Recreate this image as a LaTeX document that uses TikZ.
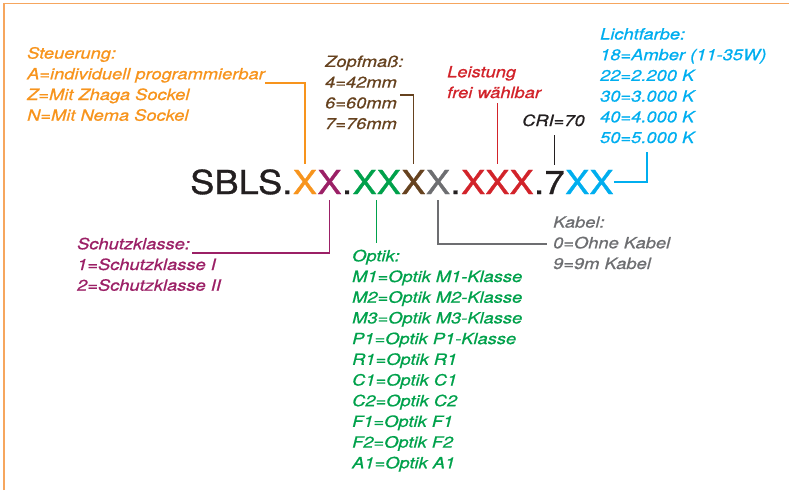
\documentclass[tikz,border=0pt]{standalone}
\usepackage{fontspec}
\setmainfont[FakeStretch=1.18, FakeBold=0.8]{TeX Gyre Heros}
\newfontfamily\codefont[FakeStretch=1.1, FakeBold=1]{TeX Gyre Heros}
\usetikzlibrary{positioning}
\definecolor{cFrame}{HTML}{F6A65E}
\definecolor{cOrange}{HTML}{F7941D}
\definecolor{cPurple}{HTML}{9B2066}
\definecolor{cGreen}{HTML}{00A14B}
\definecolor{cBrown}{HTML}{66421F}
\definecolor{cGray}{HTML}{6D6E71}
\definecolor{cRed}{HTML}{D2232A}
\definecolor{cBlue}{HTML}{00AEEF}
\definecolor{cBlack}{HTML}{231F20}
\begin{document}
\begin{tikzpicture}[x=1pt, y=-1pt,
  code/.style={font=\codefont\fontsize{33}{33}\selectfont, inner xsep=0pt, inner ysep=6pt, text=cBlack},
  lbl/.style={font=\fontsize{15.5}{20.7}\selectfont\itshape, align=left, inner sep=0pt, anchor=base west},
  wire/.style={line width=1.3pt}]
 \useasboundingbox (0,0) rectangle (789,490);
 \draw[cFrame, line width=1.8pt] (4,490) -- (4,3.5) -- (789,3.5);
 % the type code
 \node[code, anchor=base west] (sbls) at (190,194) {SBLS.};
 \node[code, base right=0pt of sbls, text=cOrange] (st) {X};
 \node[code, base right=0pt of st, text=cPurple] (sk) {X};
 \node[code, base right=0pt of sk] (dot1) {.};
 \node[code, base right=0pt of dot1, text=cGreen] (op) {XX};
 \node[code, base right=0pt of op, text=cBrown] (zm) {X};
 \node[code, base right=0pt of zm, text=cGray] (kb) {X};
 \node[code, base right=0pt of kb] (dot2) {.};
 \node[code, base right=0pt of dot2, text=cRed] (le) {XXX};
 \node[code, base right=0pt of le] (dot3) {.};
 \node[code, base right=0pt of dot3] (cri) {7};
 \node[code, base right=0pt of cri, text=cBlue] (lf) {XX};
 % labels (base = last line)
 \node[lbl, text=cOrange] (steuerung) at (27,120.7) {Steuerung:\\A=individuell programmierbar\\Z=Mit Zhaga Sockel\\N=Mit Nema Sockel};
 \node[lbl, text=cBrown] (zopf) at (325,129) {Zopfmaß:\\4=42mm\\6=60mm\\7=76mm};
 \node[lbl, text=cRed] (leistung) at (447,98) {Leistung\\frei wählbar};
 \node[lbl, text=cBlack] (crilbl) at (522,126) {CRI=70};
 \node[lbl, text=cBlue] (licht) at (600,143) {Lichtfarbe:\\18=Amber (11-35W)\\22=2.200 K\\30=3.000 K\\40=4.000 K\\50=5.000 K};
 \node[lbl, text=cPurple] (schutz) at (77,290.7) {Schutzklasse:\\1=Schutzklasse I\\2=Schutzklasse II};
 \node[lbl, text=cGreen] (optik) at (352,468.3) {Optik:\\M1=Optik M1-Klasse\\M2=Optik M2-Klasse\\M3=Optik M3-Klasse\\P1=Optik P1-Klasse\\R1=Optik R1\\C1=Optik C1\\C2=Optik C2\\F1=Optik F1\\F2=Optik F2\\A1=Optik A1};
 \node[lbl, text=cGray] (kabel) at (553,269) {Kabel:\\0=Ohne Kabel\\9=9m Kabel};
 % connector ends
 \coordinate (stEnd) at (265,83);
 \coordinate (zmEnd) at (400,95);
 \coordinate (leEnd) at (495,103);
 \coordinate (criEnd) at (553,135);
 \coordinate (lfEnd) at (647,152);
 \coordinate (skEnd) at (192,253);
 \coordinate (opEnd) at (377,243);
 \coordinate (kbEnd) at (547,244);
 % connectors
 \draw[wire, cOrange] (st.north) |- (stEnd);
 \draw[wire, cBrown] (zm.north) |- (zmEnd);
 \draw[wire, cRed] (le.north) -- (le.north |- leEnd);
 \draw[wire, cBlack] (cri.north) -- (cri.north |- criEnd);
 \draw[wire, cBlue] (lf.east) -| (lfEnd);
 \draw[wire, cPurple] (sk.south) |- (skEnd);
 \draw[wire, cGreen] (op.south) -- (op.south |- opEnd);
 \draw[wire, cGray] (kb.south) |- (kbEnd);
\end{tikzpicture}
\end{document}
